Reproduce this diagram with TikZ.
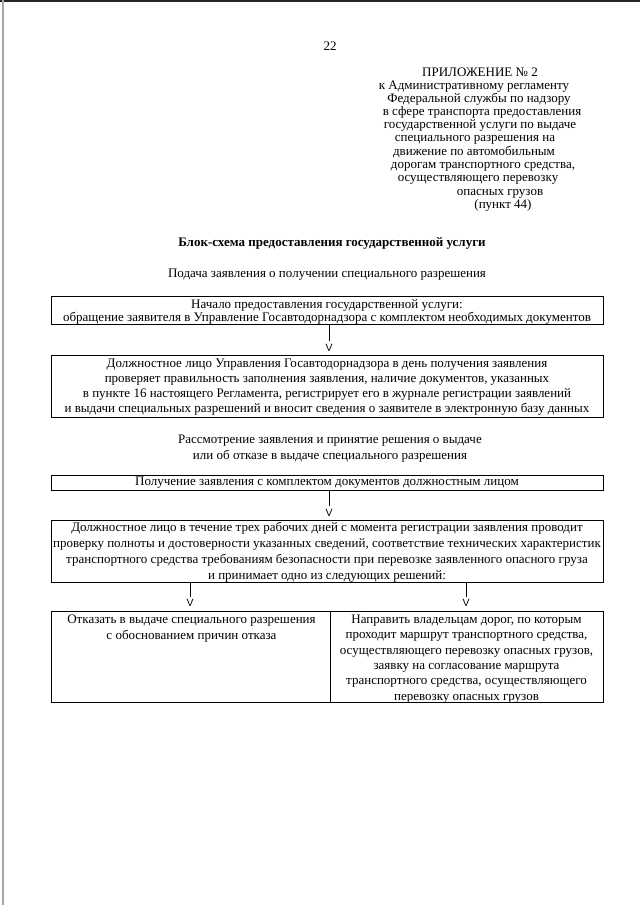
\documentclass[tikz,border=0pt]{standalone}
\usepackage{fontspec}
\setmainfont{Liberation Serif}
\newfontfamily\vfont{Liberation Sans}
\usetikzlibrary{calc}
\begin{document}
\begin{tikzpicture}[x=1pt,y=-1pt,
  txt/.style={inner sep=0pt, text height=9pt, text depth=3pt, font=\fontsize{13}{15}\selectfont},
  mtxt/.style={inner sep=0pt, align=center, font=\fontsize{13}{#1}\selectfont},
  mtxt/.default=15,
  box/.style={draw, line width=0.7pt, inner sep=0pt, minimum width=552pt},
  cell/.style={draw, line width=0.7pt, inner sep=0pt},
  vmark/.style={inner sep=0pt, font=\vfont\fontsize{10.5}{10.5}\selectfont, anchor=south},
  conn/.style={line width=0.7pt}
]
\useasboundingbox (0,0) rectangle (640,905);
\fill[white] (0,0) rectangle (640,905);
% scan edges
\draw[line width=2pt, black!85] (0,1) -- (640,1);
\draw[line width=1.2pt, black!35] (3,0) -- (3,905);

\node[txt] (pg) at (330,47) {22};
\node[txt] (a1) at (480,73.5) {ПРИЛОЖЕНИЕ № 2};
\node[txt] (a2) at (474,86.5) {к Административному регламенту};
\node[txt] (a3) at (479,99.5) {Федеральной службы по надзору};
\node[txt] (a4) at (482,112.5) {в сфере транспорта предоставления};
\node[txt] (a5) at (480,125.5) {государственной услуги по выдаче};
\node[txt] (a6) at (475,138.5) {специального разрешения на};
\node[txt] (a7) at (474,152) {движение по автомобильным};
\node[txt] (a8) at (483,165) {дорогам транспортного средства,};
\node[txt] (a9) at (478,178.5) {осуществляющего перевозку};
\node[txt] (a10) at (500,192) {опасных грузов};
\node[txt] (a11) at (503,205) {(пункт 44)};

\node[txt, font=\fontsize{13}{15}\selectfont\bfseries] (title) at (332,243) {Блок-схема предоставления государственной услуги};
\node[txt] (s1) at (327,274.5) {Подача заявления о получении специального разрешения};

% boxes
\node[box, minimum height=28pt] (b1) at (327,310.5) {};
\node[mtxt=13.5] (t1) at ($(b1.center)+(0,1.2)$) {Начало предоставления государственной услуги:\\обращение заявителя в Управление Госавтодорнадзора с комплектом необходимых документов};

\node[box, minimum height=62pt] (b2) at (327,386) {};
\node[mtxt=15] (t2) at ($(b2.center)+(0,1.5)$) {Должностное лицо Управления Госавтодорнадзора в день получения заявления\\проверяет правильность заполнения заявления, наличие документов, указанных\\в пункте 16 настоящего Регламента, регистрирует его в журнале регистрации заявлений\\и выдачи специальных разрешений и вносит сведения о заявителе в электронную базу данных};

\node[mtxt=16] (s2) at (330,449) {Рассмотрение заявления и принятие решения о выдаче\\или об отказе в выдаче специального разрешения};

\node[box, minimum height=15pt] (b3) at (327,483) {};
\node[txt] (t3) at ($(b3.center)+(0,-0.3)$) {Получение заявления с комплектом документов должностным лицом};

\node[box, minimum height=62pt] (b4) at (327,551) {};
\node[mtxt=16] (t4) at ($(b4.center)+(0,1.5)$) {Должностное лицо в течение трех рабочих дней с момента регистрации заявления проводит\\проверку полноты и достоверности указанных сведений, соответствие технических характеристик\\транспортного средства требованиям безопасности при перевозке заявленного опасного груза\\и принимает одно из следующих решений:};

\node[cell, minimum width=279pt, minimum height=91pt] (l) at (190.5,656.5) {};
\node[cell, minimum width=273pt, minimum height=91pt] (r) at (466.5,656.5) {};
\node[mtxt=16, anchor=north] (lt) at ($(l.north)+(1,4.5)$) {Отказать в выдаче специального разрешения\\с обоснованием причин отказа};
\node[mtxt=15.4, anchor=north] (rt) at ($(r.north)+(0,4)$) {Направить владельцам дорог, по которым\\проходит маршрут транспортного средства,\\осуществляющего перевозку опасных грузов,\\заявку на согласование маршрута\\транспортного средства, осуществляющего\\перевозку опасных грузов};

% connectors
\draw[conn] ($(b1.south)+(2,0)$) -- ($(b2.north)+(2,-14)$);
\node[vmark] (v1) at ($(b2.north)+(2,-3)$) {V};
\draw[conn] ($(b3.south)+(2,0)$) -- ($(b4.north)+(2,-14)$);
\node[vmark] (v2) at ($(b4.north)+(2,-3)$) {V};
\coordinate (la) at (190,0);
\coordinate (ra) at (466,0);
\draw[conn] (b4.south -| la) -- ($(l.north -| la)+(0,-14)$);
\node[vmark] (v3) at ($(l.north -| la)+(0,-4)$) {V};
\draw[conn] (b4.south -| ra) -- ($(r.north -| ra)+(0,-14)$);
\node[vmark] (v4) at ($(r.north -| ra)+(0,-4)$) {V};
\end{tikzpicture}
\end{document}
